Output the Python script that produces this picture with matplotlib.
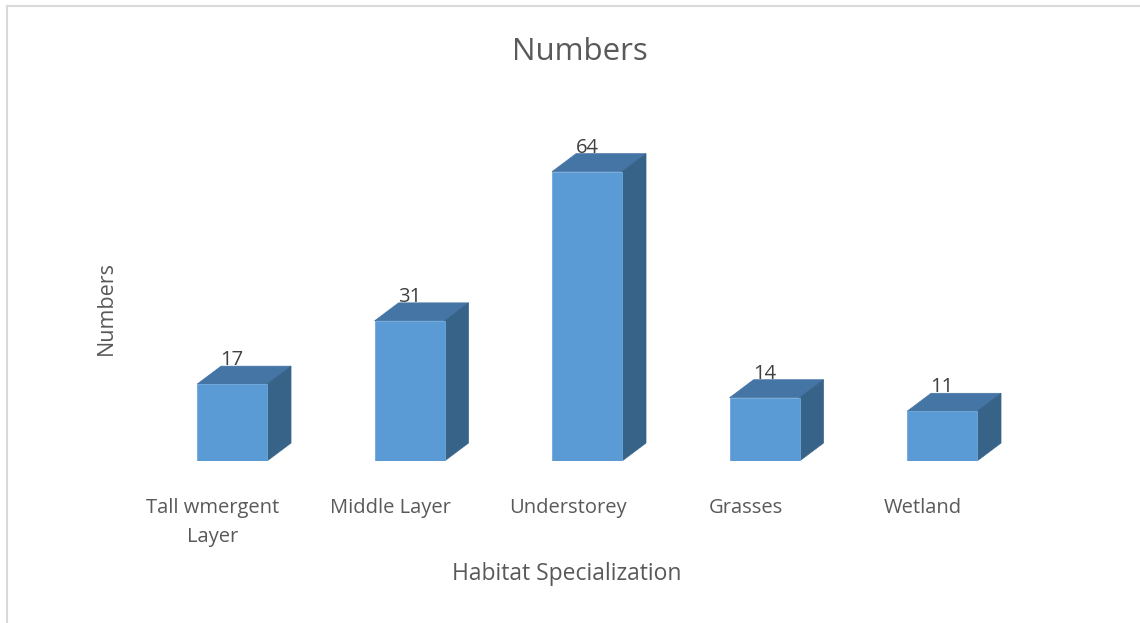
import matplotlib.pyplot as plt
import matplotlib.transforms as mtransforms
from matplotlib.patches import Polygon
from matplotlib.lines import Line2D

categories = ['Tall wmergent\nLayer', 'Middle Layer', 'Understorey', 'Grasses', 'Wetland']
numbers = [17, 31, 64, 14, 11]

front_color = '#5B9BD5'
top_color = '#4475A5'
side_color = '#386389'
text_color = '#595959'

plt.rcParams['font.family'] = ['Open Sans', 'DejaVu Sans']

fig = plt.figure(figsize=(11.4, 6.23), dpi=100)
ax = fig.add_axes([0.1257, 0.26, 0.7785, 0.508])
ax.set_xlim(-0.5, 4.5)
ax.set_ylim(0, 70)
for s in ax.spines.values():
    s.set_visible(False)
ax.set_yticks([])
ax.set_xticks([])

width = 0.394
dx, dy = 24, 18  # depth of the 3D box, in pixels
back = mtransforms.offset_copy(ax.transData, fig=fig, x=dx, y=dy, units='dots')

for i, v in enumerate(numbers):
    x0, x1 = i - width / 2, i + width / 2
    # front face
    ax.bar(i, v, width=width, color=front_color, edgecolor='#6FA8DC', linewidth=0.6, zorder=3)
    # convert back-face corners into data coords
    to_data = ax.transData.inverted()
    bl = to_data.transform(back.transform((x0, v)))
    br = to_data.transform(back.transform((x1, v)))
    bb = to_data.transform(back.transform((x1, 0)))
    ax.add_patch(Polygon([(x0, v), (x1, v), tuple(br), tuple(bl)],
                         closed=True, facecolor=top_color, edgecolor=top_color, lw=0.5, zorder=2))
    ax.add_patch(Polygon([(x1, 0), (x1, v), tuple(br), tuple(bb)],
                         closed=True, facecolor=side_color, edgecolor=side_color, lw=0.5, zorder=2))
    ax.annotate(str(v), (i, v), xytext=(0, 24), textcoords='offset pixels',
                ha='center', va='center', fontsize=14.5, color='#404040', zorder=4)
    ax.annotate(categories[i], (i, 0), xytext=(-19, -37), textcoords='offset pixels',
                ha='center', va='top', fontsize=14.5, color=text_color,
                linespacing=1.6, annotation_clip=False)

fig.text(0.509, 0.917, 'Numbers', ha='center', va='center', fontsize=22.5, color=text_color)
fig.text(0.093, 0.505, 'Numbers', ha='center', va='center', rotation=90, fontsize=15.5, color=text_color)
fig.text(0.497, 0.078, 'Habitat Specialization', ha='center', va='center', fontsize=16.5, color=text_color)

# chart frame
fig.add_artist(Line2D([0.0065, 0.0065], [0, 0.991], transform=fig.transFigure, color='#D9D9D9', lw=1.5))
fig.add_artist(Line2D([0.0065, 1], [0.991, 0.991], transform=fig.transFigure, color='#D9D9D9', lw=1.5))

fig.savefig('out.png', dpi=100)
